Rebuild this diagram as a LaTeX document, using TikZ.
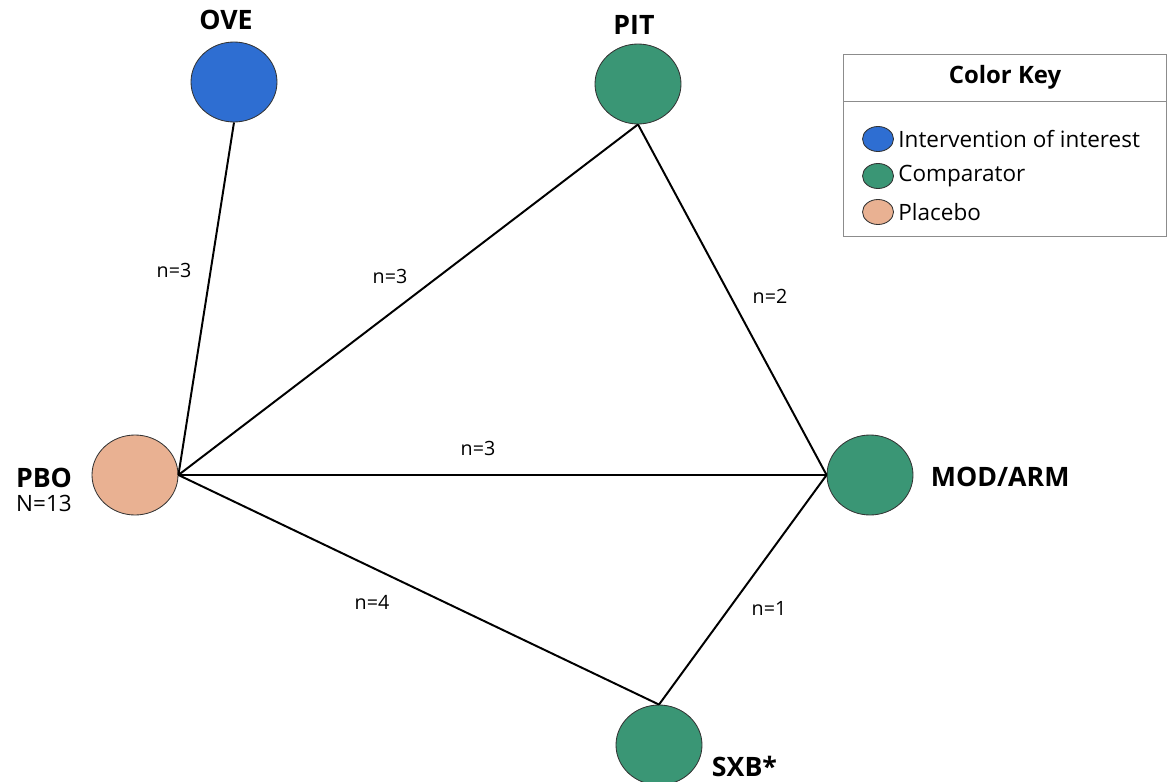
\documentclass[tikz,border=0pt]{standalone}
\usepackage{fontspec}
\setmainfont{Open Sans}
\usetikzlibrary{shapes.geometric, positioning}
\definecolor{oveblue}{HTML}{2E6ED2}
\definecolor{compgreen}{HTML}{3A9675}
\definecolor{pbopeach}{HTML}{E9B192}

\begin{document}
\begin{tikzpicture}[x=0.025cm, y=-0.025cm,
  trt/.style={ellipse, draw=black!80, semithick, minimum width=86*0.025cm, minimum height=80*0.025cm, inner sep=0pt},
  keydot/.style={ellipse, draw=black!80, semithick, minimum width=31*0.025cm, minimum height=25*0.025cm, inner sep=0pt},
  lbl/.style={font=\bfseries\fontsize{19}{22}\selectfont},
  nlbl/.style={font=\fontsize{14}{16}\selectfont},
  keylbl/.style={font=\fontsize{16}{18}\selectfont, anchor=west, inner sep=3pt},
  link/.style={draw=black, line width=1.4pt}]
\useasboundingbox (0,0) rectangle (1171,782);
% Draw treatment nodes
\node[trt, fill=oveblue] (ove) at (234,82) {};
\node[trt, fill=compgreen] (pit) at (638,84) {};
\node[trt, fill=pbopeach] (pbo) at (135,475) {};
\node[trt, fill=compgreen] (mod) at (870,475) {};
\node[trt, fill=compgreen] (sxb) at (659,745) {};
% Treatment labels
\node[lbl] (ovelbl) at (226,20) {OVE};
\node[lbl] (pitlbl) at (634,25) {PIT};
\node[lbl] (pbolbl) at (44,478) {PBO};
\node[font=\fontsize{16}{18}\selectfont, below=-2pt of pbolbl] (pbon) {N=13};
\node[lbl, anchor=west] (modlbl) at (926,477) {MOD/ARM};
\node[lbl, anchor=west] (sxblbl) at (707,766) {SXB*};
% Draw connections
\draw[link] (ove.south) -- (pbo.east);
\draw[link] (pbo.east) -- (pit.south);
\draw[link] (pit.south) -- (mod.west);
\draw[link] (pbo.east) -- (mod.west);
\draw[link] (pbo.east) -- (sxb.north);
\draw[link] (sxb.north) -- (mod.west);
% Number of studies
\node[nlbl] (n1) at (174,270) {n=3};
\node[nlbl] (n2) at (390,276) {n=3};
\node[nlbl] (n3) at (770,296) {n=2};
\node[nlbl] (n4) at (478,448) {n=3};
\node[nlbl] (n5) at (372,602) {n=4};
\node[nlbl] (n6) at (769,608) {n=1};
% Color key
\draw[black!45, thin] (843,54) rectangle (1166,236);
\draw[black!45, thin] (843,101) -- (1166,101);
\node[font=\bfseries\fontsize{17}{19}\selectfont] (keytitle) at (1005,77) {Color Key};
\node[keydot, fill=oveblue] (k1) at (878,139) {};
\node[keydot, fill=compgreen] (k2) at (878,176) {};
\node[keydot, fill=pbopeach] (k3) at (878,212) {};
\node[keylbl] (k1t) at (k1.east) {Intervention of interest};
\node[keylbl] (k2t) at (k2.east) {Comparator};
\node[keylbl] (k3t) at (k3.east) {Placebo};
\end{tikzpicture}
\end{document}
